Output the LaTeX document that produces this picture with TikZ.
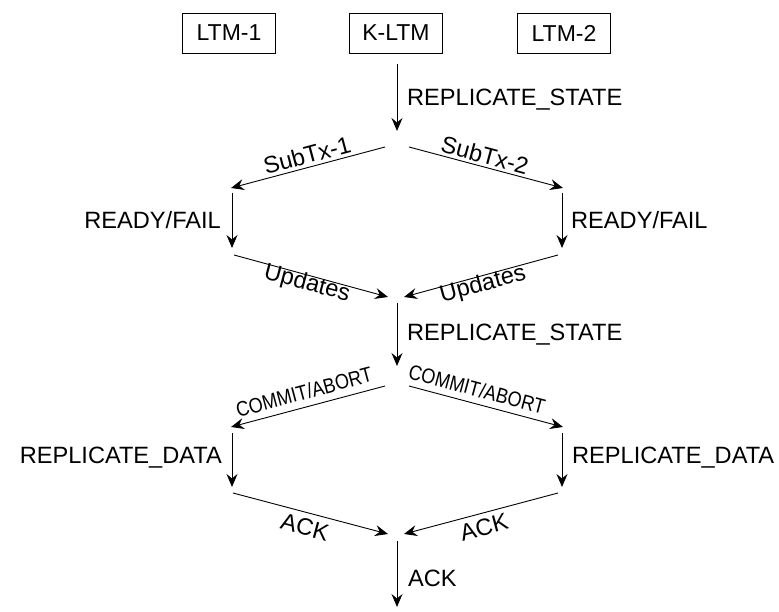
\documentclass[tikz,border=0pt]{standalone}
\usepackage{fontspec}
\setmainfont{Liberation Sans}
\newfontfamily\condfont[FakeStretch=0.86]{Liberation Sans}
\usetikzlibrary{arrows.meta}
\begin{document}
\begin{tikzpicture}[x=1pt,y=-1pt,
  box/.style={draw,line width=0.8pt,minimum width=93pt,minimum height=40pt,inner sep=0pt,font=\fontsize{23}{25}\selectfont},
  lbl/.style={inner sep=0pt,font=\fontsize{23.6}{25}\selectfont},
  slbl/.style={inner sep=0pt,font=\condfont\fontsize{21}{23}\selectfont},
  arr/.style={line width=0.9pt,-{Stealth[length=13pt,width=11pt,inset=4.5pt]}}]
\useasboundingbox (0,0) rectangle (779,612);
\node[box] (ltm1) at (229,33) {LTM-1};
\node[box] (kltm) at (396,33) {K-LTM};
\node[box] (ltm2) at (564,33) {LTM-2};
% coordinates
\coordinate (a1s) at (397,64);
\coordinate (a1e) at (397,131);
\coordinate (s1s) at (385,147);
\coordinate (s1e) at (231,188);
\coordinate (s2s) at (409,147);
\coordinate (s2e) at (563,188);
\coordinate (r1s) at (232,193);
\coordinate (r1e) at (232,248);
\coordinate (r2s) at (562,193);
\coordinate (r2e) at (562,248);
\coordinate (u1s) at (234,255);
\coordinate (u1e) at (388,297);
\coordinate (u2s) at (558,255);
\coordinate (u2e) at (404,297);
\coordinate (a2s) at (397,303);
\coordinate (a2e) at (397,366);
\coordinate (c1s) at (385,386);
\coordinate (c1e) at (231,427);
\coordinate (c2s) at (409,386);
\coordinate (c2e) at (563,427);
\coordinate (d1s) at (232,433);
\coordinate (d1e) at (232,487);
\coordinate (d2s) at (562,433);
\coordinate (d2e) at (562,487);
\coordinate (k1s) at (233,493);
\coordinate (k1e) at (388,534);
\coordinate (k2s) at (558,493);
\coordinate (k2e) at (404,534);
\coordinate (a3s) at (397,541);
\coordinate (a3e) at (397,607);
% arrows
\draw[arr] (a1s) -- (a1e);
\draw[arr] (s1s) -- (s1e);
\draw[arr] (s2s) -- (s2e);
\draw[arr] (r1s) -- (r1e);
\draw[arr] (r2s) -- (r2e);
\draw[arr] (u1s) -- (u1e);
\draw[arr] (u2s) -- (u2e);
\draw[arr] (a2s) -- (a2e);
\draw[arr] (c1s) -- (c1e);
\draw[arr] (c2s) -- (c2e);
\draw[arr] (d1s) -- (d1e);
\draw[arr] (d2s) -- (d2e);
\draw[arr] (k1s) -- (k1e);
\draw[arr] (k2s) -- (k2e);
\draw[arr] (a3s) -- (a3e);
% labels
\node[lbl,anchor=west] (l1) at (407,100) {REPLICATE\_STATE};
\node[lbl,rotate=15] (l2) at (307,155) {SubTx-1};
\node[lbl,rotate=-15] (l3) at (485,155) {SubTx-2};
\node[lbl,anchor=east] (l4) at (221,220) {READY/FAIL};
\node[lbl,anchor=west] (l5) at (571,220) {READY/FAIL};
\node[lbl,rotate=-15] (l6) at (307,284) {Updates};
\node[lbl,rotate=15] (l7) at (483,285) {Updates};
\node[lbl,anchor=west] (l8) at (407,335) {REPLICATE\_STATE};
\node[slbl,rotate=15] (l9) at (304,392) {COMMIT/ABORT};
\node[slbl,rotate=-15] (l10) at (477,389) {COMMIT/ABORT};
\node[lbl,anchor=east] (l11) at (222,458) {REPLICATE\_DATA};
\node[lbl,anchor=west] (l12) at (572,458) {REPLICATE\_DATA};
\node[lbl,rotate=-15] (l13) at (305,527) {ACK};
\node[lbl,rotate=15] (l14) at (484,527) {ACK};
\node[lbl,anchor=west] (l15) at (408,578) {ACK};
\end{tikzpicture}
\end{document}
